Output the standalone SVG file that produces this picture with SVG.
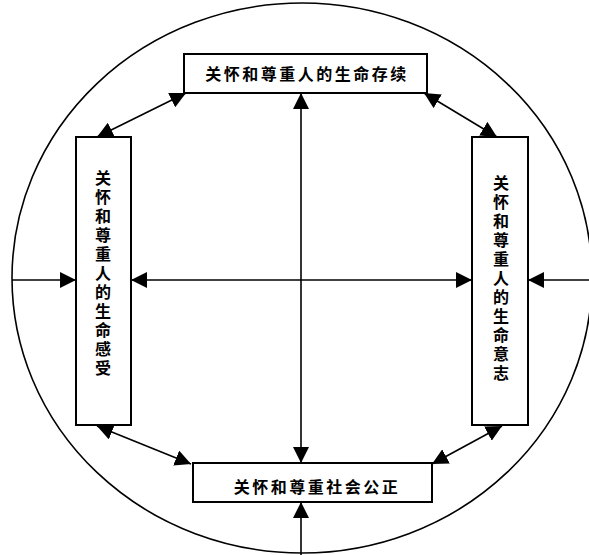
<svg xmlns="http://www.w3.org/2000/svg" width="589" height="555" viewBox="0 0 589 555">
<style>
.box{fill:#fff;stroke:#000;stroke-width:2}
.ln{fill:none;stroke:#000;stroke-width:1.6}
.t{font-family:"Noto Sans CJK SC","Noto Sans CJK JP",sans-serif;font-size:16px;font-weight:bold;fill:#000;text-anchor:middle}
</style>
<defs>
<marker id="ah" markerUnits="userSpaceOnUse" markerWidth="16" markerHeight="16" viewBox="0 0 15 15" refX="15" refY="7.5" orient="auto-start-reverse">
<path d="M0,0 L15,7.5 L0,15 z" fill="#000"/>
</marker>
</defs>
<rect width="589" height="555" fill="#fff"/>
<ellipse cx="302" cy="278" rx="290" ry="275" fill="none" stroke="#000" stroke-width="1.6"/>
<g id="connectors">
<line class="ln" x1="301" y1="93" x2="301" y2="463" marker-start="url(#ah)" marker-end="url(#ah)"/>
<line class="ln" x1="301" y1="555" x2="301" y2="502" marker-end="url(#ah)"/>
<line class="ln" x1="131" y1="280" x2="472" y2="280" marker-start="url(#ah)" marker-end="url(#ah)"/>
<line class="ln" x1="12" y1="280" x2="76" y2="280" marker-end="url(#ah)"/>
<line class="ln" x1="589" y1="280" x2="528" y2="280" marker-end="url(#ah)"/>
<line class="ln" x1="186" y1="93" x2="97" y2="137" marker-start="url(#ah)" marker-end="url(#ah)"/>
<line class="ln" x1="424" y1="93" x2="497" y2="137" marker-start="url(#ah)" marker-end="url(#ah)"/>
<line class="ln" x1="97" y1="426" x2="191" y2="464" marker-start="url(#ah)" marker-end="url(#ah)"/>
<line class="ln" x1="502" y1="426" x2="432" y2="464" marker-start="url(#ah)" marker-end="url(#ah)"/>
</g>
<g id="node-top">
<rect class="box" x="184" y="54" width="243" height="39"/>
<text class="t" x="307" y="80" letter-spacing="2.5">关怀和尊重人的生命存续</text>
</g>
<g id="node-left">
<rect class="box" x="76" y="137" width="55" height="288"/>
<text class="t" x="103" y="274" writing-mode="vertical-rl" letter-spacing="3">关怀和尊重人的生命感受</text>
</g>
<g id="node-right">
<rect class="box" x="472" y="137" width="56" height="288"/>
<text class="t" x="501" y="279" writing-mode="vertical-rl" letter-spacing="3">关怀和尊重人的生命意志</text>
</g>
<g id="node-bottom">
<rect class="box" x="193" y="463" width="239" height="39"/>
<text class="t" x="317" y="493" letter-spacing="2.5">关怀和尊重社会公正</text>
</g>
</svg>
